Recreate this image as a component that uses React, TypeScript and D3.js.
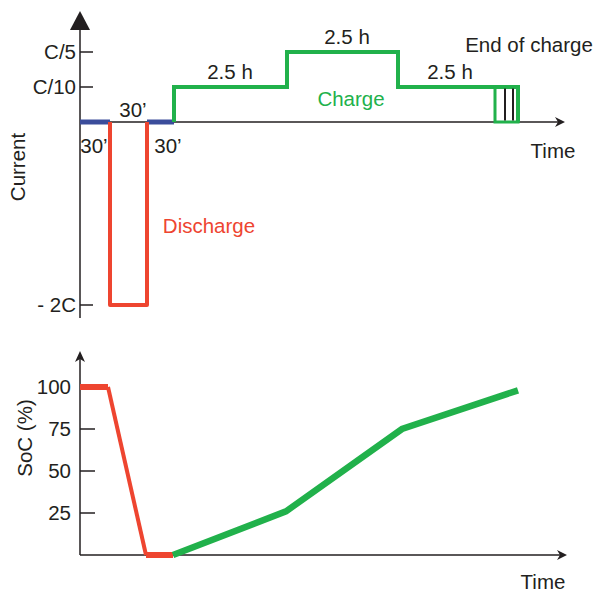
import React from "react";
import * as d3 from "d3";

// schematic time breakpoints (arbitrary units)
const stepTimes = [0, 30, 67, 94, 207, 318, 438];
const timeEnd = 485;
// current levels (C-rate)
const currentTicks = [0.2, 0.1, -2];
const currentTickLabels = ["C/5", "C/10", "- 2C"];
const restBefore = [{ t: 0, i: 0 }, { t: 30, i: 0 }];
const restAfter = [{ t: 67, i: 0 }, { t: 94, i: 0 }];
const discharge = [{ t: 30, i: 0 }, { t: 30, i: -2 }, { t: 67, i: -2 }, { t: 67, i: 0 }];
const charge = [
  { t: 94, i: 0 }, { t: 94, i: 0.1 }, { t: 207, i: 0.1 }, { t: 207, i: 0.2 },
  { t: 318, i: 0.2 }, { t: 318, i: 0.1 }, { t: 438, i: 0.1 }, { t: 438, i: 0 },
];
const endBox = { t0: 415, t1: 438, marks: [425, 433] };
const durationLabels = [
  { t: 53, pos: "above", text: "30’" },
  { t: 14, pos: "below", text: "30’" },
  { t: 88, pos: "below", text: "30’" },
];
const stepLabels = [
  { t: 150, i: 0.1, text: "2.5 h" },
  { t: 267, i: 0.2, text: "2.5 h" },
  { t: 370, i: 0.1, text: "2.5 h" },
];
// SoC (%)
const socTicks = [100, 75, 50, 25];
const socDischarge = [{ t: 0, s: 100 }, { t: 28, s: 100 }, { t: 66, s: 0 }, { t: 93, s: 0 }];
const socCharge = [{ t: 93, s: 0 }, { t: 206, s: 26 }, { t: 322, s: 75 }, { t: 438, s: 98 }];

const GREEN = "#21b14b";
const RED = "#ee4530";
const BLUE = "#3b4d9b";
const INK = "#231f20";
const FONT = "'Liberation Sans', Arial, Helvetica, sans-serif";

export default function App() {
  const x = d3.scaleLinear().domain([0, timeEnd]).range([80, 565]);
  const yI = d3.scaleLinear().domain([-2, 0, 0.1, 0.2]).range([305, 122, 87, 52]);
  const yS = d3.scaleLinear().domain([0, 100]).range([555, 387]);

  const lineI = d3.line<{ t: number; i: number }>().x((d) => x(d.t)).y((d) => yI(d.i));
  const lineS = d3.line<{ t: number; s: number }>().x((d) => x(d.t)).y((d) => yS(d.s));

  const x0 = x(0);
  const fs = 20.5;

  return (
    <svg width={597} height={594} style={{ position: "absolute", left: 0, top: 0 }} fontFamily={FONT}>
      <rect width={597} height={594} fill="#fff" />
      {/* ---------- top panel ---------- */}
      <line x1={x0} x2={x0} y1={28} y2={318} stroke={INK} strokeWidth={1.5} />
      <path d={`M${x0 - 10},30 L${x0},11 L${x0 + 10},30 Z`} fill={INK} />
      <line x1={x0} x2={x(timeEnd) - 6} y1={yI(0)} y2={yI(0)} stroke={INK} strokeWidth={1.5} />
      <path d={`M${x(timeEnd) - 10},${yI(0) - 5} L${x(timeEnd)},${yI(0)} L${x(timeEnd) - 10},${yI(0) + 5} L${x(timeEnd) - 7},${yI(0)} Z`} fill={INK} />
      {currentTicks.map((v, k) => (
        <g key={k}>
          <line x1={x0} x2={x0 + 13} y1={yI(v)} y2={yI(v)} stroke={INK} strokeWidth={1.5} />
          <text x={x0 - 4} y={yI(v)} dy="0.36em" textAnchor="end" fontSize={fs} fill={INK}>{currentTickLabels[k]}</text>
        </g>
      ))}
      <text transform={`translate(25,167) rotate(-90)`} textAnchor="middle" fontSize={fs} fill={INK}>Current</text>
      <text x={553} y={158} textAnchor="middle" fontSize={fs} fill={INK}>Time</text>

      <path d={lineI(restBefore)!} fill="none" stroke={BLUE} strokeWidth={5} />
      <path d={lineI(restAfter)!} fill="none" stroke={BLUE} strokeWidth={5} />
      <path d={lineI(discharge)!} fill="none" stroke={RED} strokeWidth={4} strokeLinejoin="round" />
      <path d={lineI(charge)!} fill="none" stroke={GREEN} strokeWidth={4} strokeLinejoin="miter" />
      <rect x={x(endBox.t0)} y={yI(0.1)} width={x(endBox.t1) - x(endBox.t0)} height={yI(0) - yI(0.1)} fill="none" stroke={GREEN} strokeWidth={3} />
      {endBox.marks.map((t, k) => (
        <line key={k} x1={x(t)} x2={x(t)} y1={yI(0.1) + 1.5} y2={yI(0) - 1.5} stroke={INK} strokeWidth={2} />
      ))}

      {durationLabels.map((d, k) => (
        <text key={k} x={x(d.t)} y={d.pos === "above" ? 117 : 153} textAnchor="middle" fontSize={fs} fill={INK}>{d.text}</text>
      ))}
      {stepLabels.map((d, k) => (
        <text key={k} x={x(d.t)} y={yI(d.i) - 8} textAnchor="middle" fontSize={fs} fill={INK}>{d.text}</text>
      ))}
      <text x={529} y={52} textAnchor="middle" fontSize={fs} fill={INK}>End of charge</text>
      <text x={351} y={106} textAnchor="middle" fontSize={fs} fill={GREEN}>Charge</text>
      <text x={209} y={233} textAnchor="middle" fontSize={fs} fill={RED}>Discharge</text>

      {/* ---------- bottom panel ---------- */}
      <line x1={x0} x2={x0} y1={358} y2={yS(0)} stroke={INK} strokeWidth={1.5} />
      <path d={`M${x0 - 5},${362} L${x0},${351} L${x0 + 5},${362} L${x0},${359} Z`} fill={INK} />
      <line x1={x0} x2={x(timeEnd) - 4} y1={yS(0)} y2={yS(0)} stroke={INK} strokeWidth={1.5} />
      <path d={`M${x(timeEnd) - 8},${yS(0) - 5} L${x(timeEnd) + 2},${yS(0)} L${x(timeEnd) - 8},${yS(0) + 5} L${x(timeEnd) - 5},${yS(0)} Z`} fill={INK} />
      {socTicks.map((v) => (
        <g key={v}>
          <line x1={x0} x2={x0 + 15} y1={yS(v)} y2={yS(v)} stroke={INK} strokeWidth={1.5} />
          <text x={x0 - 9} y={yS(v)} dy="0.36em" textAnchor="end" fontSize={fs} fill={INK}>{v}</text>
        </g>
      ))}
      <text transform={`translate(32,438) rotate(-90)`} textAnchor="middle" fontSize={fs} fill={INK}>SoC (%)</text>
      <text x={543} y={589} textAnchor="middle" fontSize={fs} fill={INK}>Time</text>

      <path d={lineS(socDischarge.slice(0, 2))!} fill="none" stroke={RED} strokeWidth={6} />
      <path d={lineS(socDischarge.slice(1, 3))!} fill="none" stroke={RED} strokeWidth={4} />
      <path d={lineS(socDischarge.slice(2, 4))!} fill="none" stroke={RED} strokeWidth={6} />
      <path d={lineS(socCharge)!} fill="none" stroke={GREEN} strokeWidth={6.5} strokeLinejoin="miter" />
    </svg>
  );
}
